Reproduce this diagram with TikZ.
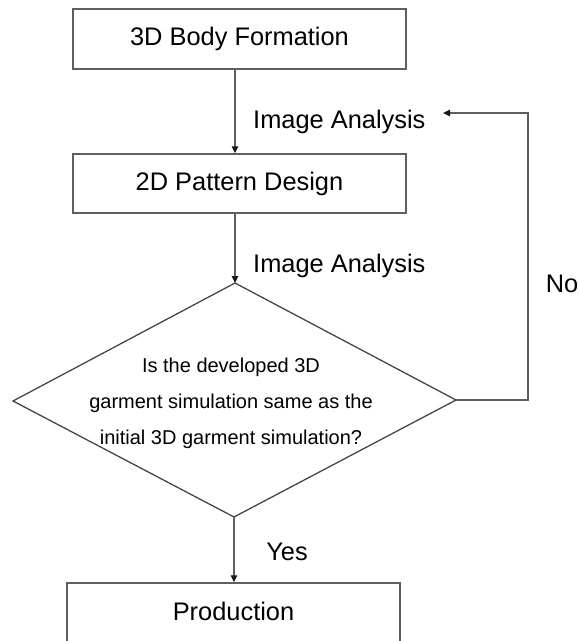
\documentclass[tikz,border=0pt]{standalone}
\usepackage{fontspec}
\setmainfont{Liberation Sans}
\usetikzlibrary{arrows.meta}
\definecolor{linecol}{RGB}{95,95,95}
\definecolor{diacol}{RGB}{70,70,70}
\begin{document}
\begin{tikzpicture}[x=1pt,y=-1pt,
  box/.style={draw=linecol,line width=1.4pt,minimum width=333pt,inner sep=0pt,font=\fontsize{25.4}{30}\selectfont},
  lbl/.style={inner sep=0pt,font=\fontsize{25.4}{30}\selectfont},
  conn/.style={draw=linecol,line width=1.3pt},
  arr/.style={conn,-{Triangle[length=7pt,width=6.5pt,color=black!90]}}]
\useasboundingbox (0,0) rectangle (579,641);
\clip (0,0) rectangle (579,641);
\node[box,minimum height=60pt] (b1) at (239.5,39) {3D Body Formation};
\node[box,minimum height=59pt] (b2) at (239.5,183.5) {2D Pattern Design};
\node[box,minimum height=60pt,text depth=0pt] (b3) at (233.5,613) {\raisebox{3pt}{Production}};
\coordinate (dt) at (235,283);
\coordinate (db) at (234,517);
\coordinate (dl) at (13,401);
\coordinate (dr) at (456,400);
\draw[conn,draw=diacol] (dt) -- (dr) -- (db) -- (dl) -- cycle;
\node[align=center,inner sep=0pt,font=\fontsize{20}{36}\selectfont] (q) at (231,403)
  {Is the developed 3D\\garment simulation same as the\\initial 3D garment simulation?};
\node[lbl,anchor=west] (ia1) at (253,122) {Image Analysis};
\node[lbl,anchor=west] (ia2) at (253,266) {Image Analysis};
\node[lbl] (no) at (562,284) {No};
\node[lbl] (yes) at (287,552) {Yes};
\coordinate (fb) at (528,113);
\coordinate (fbend) at (443,113);
\draw[arr] (b1.south -| dt) -- (dt |- b2.north);
\draw[arr] (b2.south -| dt) -- (dt);
\draw[arr] (db) -- (db |- b3.north);
\draw[arr] (dr) -- (dr -| fb) -- (fb) -- (fbend);
\end{tikzpicture}
\end{document}
